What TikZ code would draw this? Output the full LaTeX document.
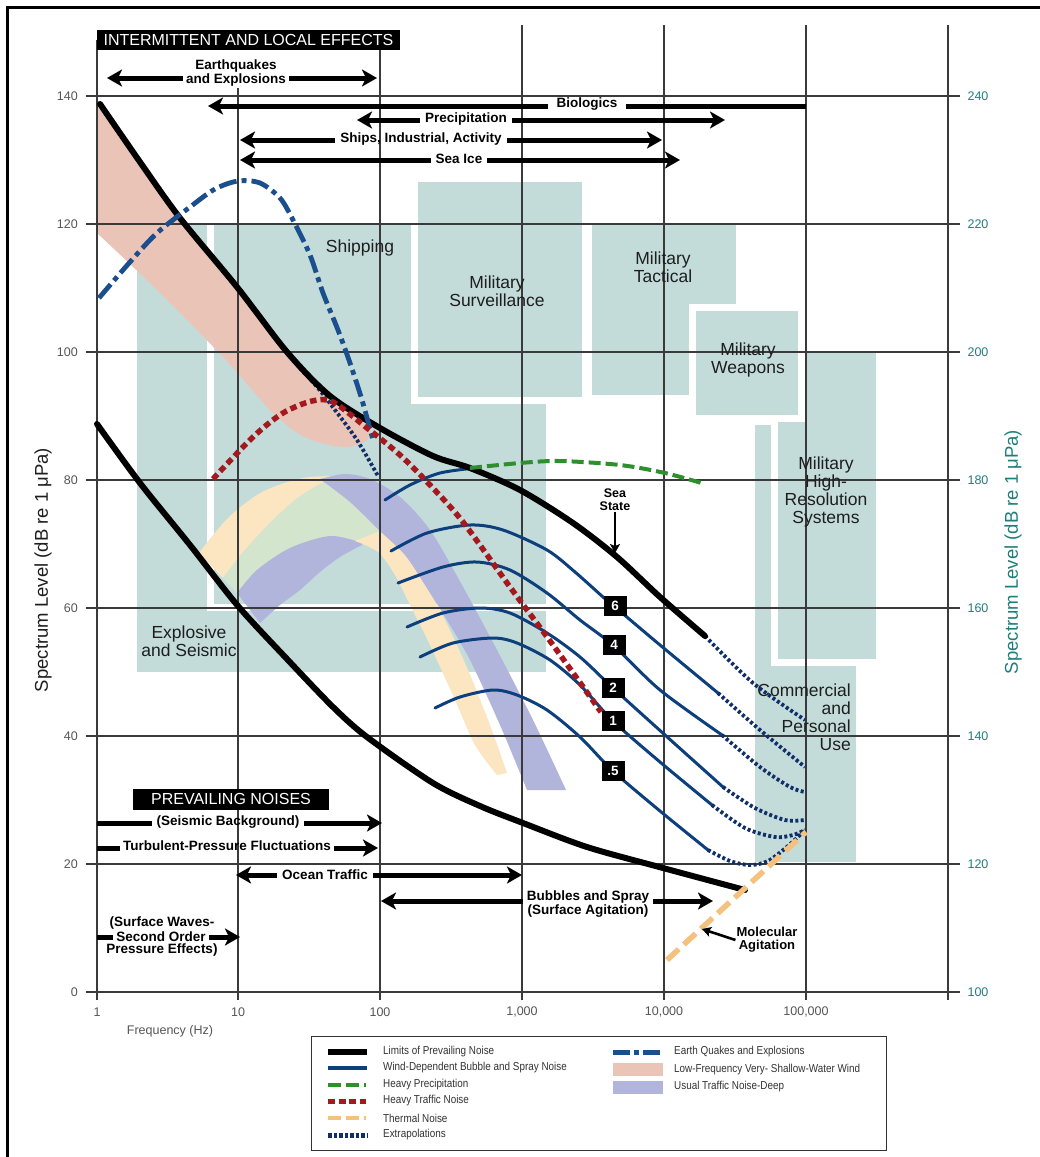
\documentclass[tikz,border=0pt]{standalone}
\usepackage{fontspec}
\setmainfont{Liberation Sans}
\newfontfamily\narrowfont{Liberation Sans}[FakeStretch=0.86]
\usetikzlibrary{arrows.meta}
\definecolor{tealbox}{HTML}{C3DCDA}
\definecolor{pinkband}{HTML}{EBC4B8}
\definecolor{yelband}{HTML}{FCE5C1}
\definecolor{grnband}{HTML}{D3E5CC}
\definecolor{lavband}{HTML}{B1B5DC}
\definecolor{navy}{HTML}{0D3F7D}
\definecolor{dotnavy}{HTML}{102F68}
\definecolor{quake}{HTML}{1B4E8C}
\definecolor{trafred}{HTML}{A3191E}
\definecolor{precgreen}{HTML}{2F8F2F}
\definecolor{thermal}{HTML}{F4C27E}
\definecolor{gridc}{HTML}{3A3A3A}
\definecolor{ticklab}{HTML}{555555}
\definecolor{rtlab}{HTML}{1E7E7A}
\definecolor{labtext}{HTML}{1E1E1E}
\definecolor{legc}{HTML}{333333}
\newcommand\appbox[4]{\fill[white] (#1-7,#2-7) rectangle (#3+7,#4+7);\fill[tealbox] (#1,#2) rectangle (#3,#4);}
\begin{document}
\begin{tikzpicture}[x=1pt,y=-1pt,
  limit/.style={line width=6pt, line cap=round, line join=round, black},
  seastate/.style={line width=3pt, navy, line cap=round},
  extrap/.style={line width=3.8pt, dotnavy, dash pattern=on 3pt off 2.4pt},
  quakeline/.style={line width=4.8pt, quake, dash pattern=on 18pt off 5pt on 5pt off 5pt},
  trafline/.style={line width=5.5pt, trafred, dash pattern=on 6.5pt off 4pt},
  precline/.style={line width=4pt, precgreen, dash pattern=on 12pt off 5pt},
  thermline/.style={line width=5.5pt, thermal, dash pattern=on 16pt off 7pt},
  gridline/.style={line width=1.1pt, gridc},
  bigarrow/.style={line width=5pt, -{Stealth[length=15pt,width=17pt,inset=4pt]}},
  smallarrow/.style={line width=2.6pt, -{Stealth[length=9pt,width=10pt,inset=2pt]}},
  arrlab/.style={font=\fontsize{13.5}{12}\selectfont\bfseries, inner xsep=5pt, inner ysep=1pt, align=center},
  regionlab/.style={font=\fontsize{17.5}{18}\selectfont, text=labtext, align=center, inner sep=0pt},
  ssbox/.style={fill=black, text=white, font=\fontsize{13.5}{14}\selectfont\bfseries, minimum width=23pt, minimum height=20pt, inner sep=0pt},
  headbox/.style={fill=black, text=white, font=\fontsize{16}{16}\selectfont, inner sep=0pt},
  ltick/.style={font=\fontsize{12.5}{13}\selectfont, text=ticklab, anchor=east, inner sep=0pt},
  rtick/.style={font=\fontsize{12.5}{13}\selectfont, text=rtlab, inner sep=0pt},
  xtick/.style={font=\fontsize{12.5}{13}\selectfont, text=ticklab, inner sep=0pt},
  legtext/.style={font=\narrowfont\fontsize{11.5}{12}\selectfont, anchor=west, inner sep=0pt, text=legc},
]
\useasboundingbox (0,0) rectangle (1040,1157);
\clip (0,0) rectangle (1040,1157);
\fill[white] (0,0) rectangle (1040,1157);
\draw[line width=3pt] (7,1200) -- (7,7) -- (1100,7);

% application regions
\appbox{137}{224}{546}{672}
\appbox{214}{224}{546}{604}
\appbox{418}{182}{582}{397}
\appbox{592}{223}{736}{395}
\appbox{755}{425}{856}{862}
\appbox{778}{353}{876}{659}
\appbox{696}{311}{798}{415}

% low-frequency shallow-water wind band
\fill[pinkband] plot[smooth,tension=0.5] coordinates {(97,106)(140,162)(180,218)(237,286)(287,352)(330,396)(355,416)(370,430)}
  -- plot[smooth,tension=0.6] coordinates {(368,440)(345,447)(307,438)(273,413)(223,357)(157,290)(97,233)} -- cycle;

% traffic bands
\fill[yelband] plot[smooth] coordinates {(199,553)(228,518)(262,492)(303,478)(340,476)}
  -- plot[smooth] coordinates {(335,478)(320,484)(295,500)(270,523)(245,550)(223,578)} -- cycle;
\fill[grnband] plot[smooth] coordinates {(223,578)(245,550)(270,523)(295,500)(320,484)(340,478)}
  -- (375,500) -- (390,545)
  -- plot[smooth] coordinates {(357,541)(330,536)(290,548)(257,570)(237,593)} -- cycle;
\fill[lavband] plot[smooth] coordinates {(237,593)(257,570)(290,548)(330,536)(362,543)}
  -- plot[smooth] coordinates {(362,545)(340,557)(320,572)(300,590)(280,605)(260,623)} -- cycle;
\fill[yelband] plot[smooth] coordinates {(355,541)(378,552)(395,575)(410,605)(430,645)(455,700)(475,745)(497,775)}
  -- plot[smooth] coordinates {(507,773)(490,725)(468,670)(445,620)(425,585)(405,555)(380,531)} -- cycle;
\fill[lavband] plot[smooth] coordinates {(320,479)(345,474)(370,479)(400,497)(430,530)(462,585)(497,650)(533,720)(566,790)}
  -- plot[smooth] coordinates {(527,790)(500,725)(470,660)(445,617)(425,585)(405,555)(380,531)(350,502)(320,479)} -- cycle;

% grid
\foreach \yy in {96,224,352,480,608,736,864,992} {\draw[gridline] (86,\yy) -- (960,\yy);}
\foreach \xx/\ys in {97/40,238/88,380/40,522/25,664/25,806/25,948/25} {\draw[gridline] (\xx,\ys) -- (\xx,1000);}

% tick labels
\foreach \yy/\lab in {96/140,224/120,352/100,480/80,608/60,736/40,864/20,992/0} {\node[ltick] (lt\lab) at (78,\yy) {\lab};}
\foreach \yy/\lab in {96/240,224/220,352/200,480/180,608/160,736/140,864/120,992/100} {\node[rtick] (rt\lab) at (978,\yy) {\lab};}
\node[xtick] (xa) at (97,1012) {1};
\node[xtick] (xb) at (238,1012) {10};
\node[xtick] (xc) at (380,1012) {100};
\node[xtick] (xd) at (522,1012) {1,000};
\node[xtick] (xe) at (664,1012) {10,000};
\node[xtick] (xf) at (806,1012) {100,000};
\node[font=\fontsize{12.5}{13}\selectfont, text=ticklab] (freq) at (170,1031) {Frequency (Hz)};
\node[rotate=90, font=\fontsize{18.5}{19}\selectfont, text=labtext] (ytl) at (43,570) {Spectrum Level (dB re 1 μPa)};
\node[rotate=90, font=\fontsize{18.5}{19}\selectfont, text=rtlab] (ytr) at (1013,552) {Spectrum Level (dB re 1 μPa)};

% region labels
\node[regionlab] (lship) at (360,248) {Shipping};
\node[regionlab] (lsurv) at (497,291) {Military\\Surveillance};
\node[regionlab] (ltact) at (663,267) {Military\\Tactical};
\node[regionlab] (lweap) at (748,360) {Military\\Weapons};
\node[regionlab] (lhigh) at (826,492) {Military\\High-\\Resolution\\Systems};
\node[regionlab, align=right, anchor=east] (lcomm) at (851,717) {Commercial\\and\\Personal\\Use};
\node[regionlab] (lexpl) at (189,641) {Explosive\\and Seismic};

% sea-state curves
\draw[seastate] plot[smooth] coordinates {(385,500)(410,485)(440,473)(475,468)};
\draw[seastate] plot[smooth] coordinates {(391,551)(427,533)(470,525)(503,530)(547,550)(575,572)(603,597)(615,607)(660,645)(718,693)};
\draw[seastate] plot[smooth] coordinates {(398,583)(443,567)(477,562)(510,570)(547,593)(580,620)(614,646)(660,690)(722,735)};
\draw[seastate] plot[smooth] coordinates {(407,627)(443,613)(480,608)(510,613)(547,633)(580,657)(613,688)(665,735)(723,787)};
\draw[seastate] plot[smooth] coordinates {(420,657)(453,643)(493,638)(517,643)(550,660)(580,685)(613,721)(660,762)(712,805)};
\draw[seastate] plot[smooth] coordinates {(435,708)(460,697)(493,690)(517,695)(547,710)(580,737)(613,771)(660,811)(708,850)};
% extrapolations
\draw[extrap] plot[smooth] coordinates {(705,636)(753,683)(805,720)};
\draw[extrap] plot[smooth] coordinates {(718,693)(760,730)(805,767)};
\draw[extrap] plot[smooth] coordinates {(722,735)(760,767)(790,787)(805,792)};
\draw[extrap] plot[smooth] coordinates {(723,787)(755,808)(785,820)(805,820)};
\draw[extrap] plot[smooth] coordinates {(712,805)(745,828)(775,837)(793,835)(805,830)};
\draw[extrap] plot[smooth] coordinates {(708,850)(730,861)(750,865)(768,861)(788,846)(805,830)};
\draw[extrap] plot[smooth] coordinates {(300,368)(318,388)(335,410)(357,440)(378,476)};

% limits of prevailing noise
\draw[limit] plot[smooth] coordinates {(100,104)(140,162)(180,218)(237,287)(287,352)(330,396)(380,428)(433,456)(470,468)(520,490)(573,523)(617,557)(660,597)(705,636)};
\draw[limit] plot[smooth] coordinates {(97,424)(140,483)(190,545)(238,606)(287,659)(333,707)(367,737)(433,783)(480,806)(523,823)(587,847)(663,868)(745,890)};

% other noise curves
\draw[quakeline] plot[smooth] coordinates {(99,298)(130,262)(157,233)(190,207)(215,189)(238,181)(260,183)(280,198)(293,220)(310,255)(323,293)(338,330)(350,363)(362,400)(373,440)};
\draw[trafline] plot[smooth] coordinates {(213,479)(253,437)(283,413)(312,401)(333,402)(367,428)(400,455)(430,485)(463,522)(510,587)(553,645)(601,712)};
\draw[precline] plot[smooth] coordinates {(470,468)(520,463)(560,461)(620,465)(665,473)(705,484)};
\draw[thermline] (667,960) -- (806,832);

% sea state boxes
\node[ssbox] (ss6) at (615,606) {6};
\node[ssbox] (ss4) at (614,645) {4};
\node[ssbox] (ss2) at (613,688) {2};
\node[ssbox] (ss1) at (613,721) {1};
\node[ssbox] (ss05) at (613,771) {.5};

% Sea State and Molecular Agitation
\node[arrlab, font=\fontsize{12.5}{13}\selectfont\bfseries, inner sep=1pt] (sslab) at (615,500) {Sea\\State};
\coordinate (sstip) at (615,553);
\draw[smallarrow] (sslab.south) -- (sstip);
\node[arrlab, font=\fontsize{13}{13}\selectfont\bfseries, inner sep=1pt] (mollab) at (767,940) {Molecular\\Agitation};
\coordinate (moltip) at (702,929);
\draw[smallarrow] (mollab.west) -- (moltip);

% header boxes
\node[headbox, minimum width=303pt, minimum height=20pt] (hint) at (248.5,40) {INTERMITTENT AND LOCAL EFFECTS};
\node[headbox, minimum width=196pt, minimum height=21pt] (hprev) at (231,799) {PREVAILING NOISES};

% intermittent arrows
\node[arrlab, inner xsep=3pt] (leq) at (236,73) {Earthquakes\\and Explosions};
\coordinate (eqL) at (107,78); \coordinate (eqR) at (377,78);
\draw[bigarrow] (leq.west |- eqL) -- (eqL);
\draw[bigarrow] (leq.east |- eqR) -- (eqR);

\node[arrlab, inner xsep=8pt] (lbio) at (587,104) {Biologics};
\coordinate (bioL) at (208,106); \coordinate (bioR) at (806,106);
\draw[bigarrow] (lbio.west |- bioL) -- (bioL);
\draw[line width=5pt] (lbio.east |- bioR) -- (bioR);

\node[arrlab] (lpre) at (466,119) {Precipitation};
\coordinate (preL) at (357,120); \coordinate (preR) at (725,120);
\draw[bigarrow] (lpre.west |- preL) -- (preL);
\draw[bigarrow] (lpre.east |- preR) -- (preR);

\node[arrlab] (lshp) at (421,139) {Ships, Industrial, Activity};
\coordinate (shpL) at (240,140); \coordinate (shpR) at (662,140);
\draw[bigarrow] (lshp.west |- shpL) -- (shpL);
\draw[bigarrow] (lshp.east |- shpR) -- (shpR);

\node[arrlab] (lice) at (459,159) {Sea Ice};
\coordinate (iceL) at (240,160); \coordinate (iceR) at (680,160);
\draw[bigarrow] (lice.west |- iceL) -- (iceL);
\draw[bigarrow] (lice.east |- iceR) -- (iceR);

% prevailing arrows
\node[arrlab] (lseis) at (228,822) {(Seismic Background)};
\coordinate (seisL) at (97,823); \coordinate (seisR) at (382,823);
\draw[line width=5pt] (seisL) -- (lseis.west |- seisL);
\draw[bigarrow] (lseis.east |- seisR) -- (seisR);

\node[arrlab, inner xsep=3pt] (lturb) at (227,846) {Turbulent-Pressure Fluctuations};
\coordinate (turbL) at (97,848); \coordinate (turbR) at (378,848);
\draw[line width=5pt] (turbL) -- (lturb.west |- turbL);
\draw[bigarrow] (lturb.east |- turbR) -- (turbR);

\node[arrlab] (locn) at (325,875) {Ocean Traffic};
\coordinate (ocnL) at (236,875); \coordinate (ocnR) at (522,875);
\draw[bigarrow] (locn.west |- ocnL) -- (ocnL);
\draw[bigarrow] (locn.east |- ocnR) -- (ocnR);

\node[arrlab, inner xsep=4pt] (lbub) at (588,904) {Bubbles and Spray\\(Surface Agitation)};
\coordinate (bubL) at (381,901); \coordinate (bubR) at (713,901);
\draw[bigarrow] (lbub.west |- bubL) -- (bubL);
\draw[bigarrow] (lbub.east |- bubR) -- (bubR);

\node[arrlab, inner sep=0pt] (lsw1) at (162,923) {(Surface Waves-};
\node[arrlab, inner xsep=3pt, inner ysep=0pt] (lsw2) at (161,937) {Second Order};
\node[arrlab, inner sep=0pt] (lsw3) at (162,950) {Pressure Effects)};
\coordinate (swL) at (97,937); \coordinate (swR) at (240,937);
\draw[line width=5pt] (swL) -- (lsw2.west |- swL);
\draw[bigarrow] (lsw2.east |- swR) -- (swR);

% legend
\draw[line width=1pt, draw=legc] (311,1036) rectangle (886,1150);
\draw[line width=6pt] (328,1052) -- (367,1052);
\node[legtext] (lg1) at (383,1052) {Limits of Prevailing Noise};
\draw[line width=4.5pt, navy] (328,1068) -- (367,1068);
\node[legtext] (lg2) at (383,1068) {Wind-Dependent Bubble and Spray Noise};
\draw[line width=4pt, precgreen, dash pattern=on 13pt off 5pt] (328,1085) -- (366,1085);
\node[legtext] (lg3) at (383,1085) {Heavy Precipitation};
\draw[line width=5pt, trafred, dash pattern=on 7pt off 3.5pt] (328,1101) -- (366,1101);
\node[legtext] (lg4) at (383,1101) {Heavy Traffic Noise};
\draw[line width=4pt, thermal, dash pattern=on 13pt off 5pt] (328,1118) -- (366,1118);
\node[legtext] (lg5) at (383,1118) {Thermal Noise};
\draw[line width=5pt, dotnavy, dash pattern=on 3.5pt off 2pt] (328,1135) -- (368,1135);
\node[legtext] (lg6) at (383,1135) {Extrapolations};
\draw[line width=5pt, quake, dash pattern=on 17pt off 4pt on 5pt off 4pt] (613,1052) -- (663,1052);
\node[legtext] (lg7) at (674,1052) {Earth Quakes and Explosions};
\fill[pinkband] (613,1063) rectangle (663,1076);
\node[legtext] (lg8) at (674,1070) {Low-Frequency Very- Shallow-Water Wind};
\fill[lavband] (613,1081) rectangle (663,1094);
\node[legtext] (lg9) at (674,1087) {Usual Traffic Noise-Deep};
\end{tikzpicture}
\end{document}
